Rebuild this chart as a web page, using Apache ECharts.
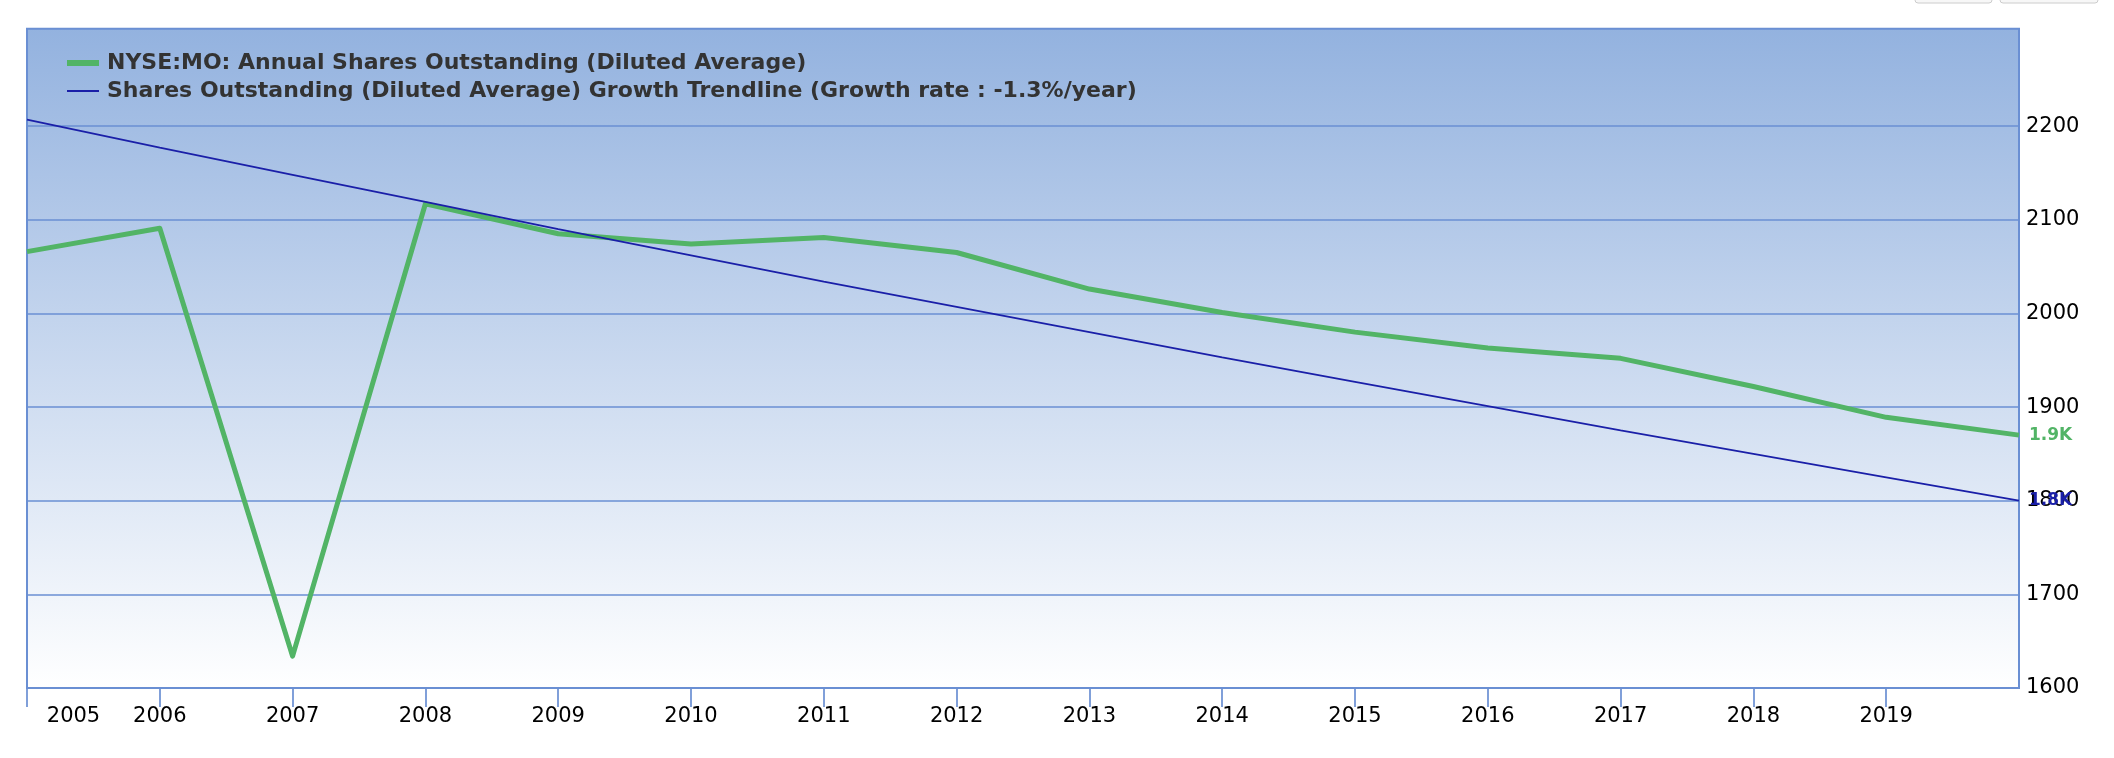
<!DOCTYPE html>
<html>
<head>
<meta charset="utf-8">
<style>
  html, body { margin: 0; padding: 0; background: #ffffff; }
  #chart { width: 2114px; height: 758px; }
</style>
<script src="https://cdn.jsdelivr.net/npm/echarts@6/dist/echarts.min.js"></script>
</head>
<body>
<div id="chart"></div>
<script>
// ---- data ----
// fiscal years; each value is plotted at the fiscal year-end (start of next year)
const fiscalYears = [2004, 2005, 2006, 2007, 2008, 2009, 2010, 2011, 2012, 2013, 2014, 2015, 2016, 2017, 2018, 2019];
const sharesDiluted = [2066, 2091, 1634, 2117, 2085, 2074, 2081, 2065, 2026, 2001, 1980, 1963, 1952, 1922, 1889, 1870];
// growth trendline values, read per fiscal year-end
const trendValues = [2207, 2177, 2148, 2119, 2090, 2062, 2034, 2007, 1980, 1953, 1927, 1901, 1875, 1850, 1825, 1800];
const xTickYears = [2005, 2006, 2007, 2008, 2009, 2010, 2011, 2012, 2013, 2014, 2015, 2016, 2017, 2018, 2019];
const yTickLabels = [1600, 1700, 1800, 1900, 2000, 2100, 2200];
const seriesNames = [
  'NYSE:MO: Annual Shares Outstanding (Diluted Average)',
  'Shares Outstanding (Diluted Average) Growth Trendline (Growth rate : -1.3%/year)'
];

// ---- styles ----
const GREEN = '#52b466';
const BLUE = '#1a1fa8';
const GRIDC = '#6a8fd3';
const FONT = 'DejaVu Sans';

const yMin = 1600, yMax = 2304, yStep = 100;
const yAllTicks = [];
for (let v = yMin; v <= yMax; v += yStep) yAllTicks.push(v);
yAllTicks.push(yMax);
const ySplitColors = yAllTicks.map(v => yTickLabels.indexOf(v) >= 0 ? GRIDC : 'rgba(0,0,0,0)');

const chart = echarts.init(document.getElementById('chart'), null, { renderer: 'canvas' });
chart.setOption({
  animation: false,
  textStyle: { fontFamily: FONT },
  graphic: [
    { type: 'rect', shape: { x: 1915, y: -20, width: 77, height: 23, r: 3 },
      style: { fill: '#f7f7f7', stroke: '#cccccc', lineWidth: 1 } },
    { type: 'rect', shape: { x: 2000, y: -20, width: 98, height: 23, r: 3 },
      style: { fill: '#f7f7f7', stroke: '#cccccc', lineWidth: 1 } }
  ],
  grid: {
    left: 27, right: 95, top: 28.7, bottom: 70,
    containLabel: false,
    outerBoundsMode: 'none',
    show: true,
    borderColor: GRIDC,
    borderWidth: 2,
    backgroundColor: new echarts.graphic.LinearGradient(0, 0, 0, 1, [
      { offset: 0, color: '#93b2df' },
      { offset: 1, color: '#ffffff' }
    ])
  },
  legend: {
    orient: 'vertical',
    left: 62,
    top: 44,
    itemWidth: 32,
    itemHeight: 14,
    itemGap: 0,
    selectedMode: false,
    textStyle: { fontFamily: FONT, fontSize: 22, fontWeight: 'bold', color: '#333333',
                 lineHeight: 28, padding: [0, 0, 0, 3] },
    data: [
      { name: seriesNames[0], icon: 'path://M0,0L32,0L32,6L0,6Z' },
      { name: seriesNames[1], icon: 'path://M0,0L32,0L32,2L0,2Z' }
    ]
  },
  xAxis: {
    type: 'value',
    min: 2005,
    max: 2020,
    interval: 1,
    splitLine: { show: false },
    axisLine: { show: true, lineStyle: { color: GRIDC, width: 2 } },
    axisTick: { show: true, length: 19, customValues: xTickYears, lineStyle: { color: GRIDC, width: 1.7 } },
    axisLabel: {
      show: true,
      margin: 18,
      fontFamily: FONT,
      fontSize: 21,
      color: '#000000',
      formatter: function (v) {
        if (xTickYears.indexOf(v) < 0) return '';
        return v === xTickYears[0] ? '{first|' + v + '}' : String(v);
      },
      rich: {
        first: { padding: [0, 0, 0, 93], fontFamily: FONT, fontSize: 21, color: '#000000' }
      }
    }
  },
  yAxis: {
    type: 'value',
    position: 'right',
    min: yMin,
    max: yMax,
    interval: yStep,
    axisLine: { show: false },
    axisTick: { show: false },
    splitLine: { show: true, lineStyle: { color: ySplitColors, width: 1.5 } },
    axisLabel: {
      margin: 7,
      fontFamily: FONT,
      fontSize: 21,
      color: '#000000',
      formatter: function (v) { return yTickLabels.indexOf(v) >= 0 ? String(v) : ''; }
    }
  },
  series: [
    {
      name: seriesNames[0],
      type: 'line',
      symbol: 'none',
      color: GREEN,
      lineStyle: { color: GREEN, width: 5, join: 'round' },
      data: fiscalYears.map((y, i) => [y + 1, sharesDiluted[i]]),
      endLabel: {
        show: true, distance: 10, color: GREEN, fontFamily: FONT, fontWeight: 'bold', fontSize: 17,
        formatter: p => (p.value[1] / 1000).toFixed(1) + 'K'
      }
    },
    {
      name: seriesNames[1],
      type: 'line',
      symbol: 'none',
      color: BLUE,
      lineStyle: { color: BLUE, width: 1.8 },
      data: fiscalYears.map((y, i) => [y + 1, trendValues[i]]),
      endLabel: {
        show: true, distance: 10, color: BLUE, fontFamily: FONT, fontWeight: 'bold', fontSize: 17,
        formatter: p => (p.value[1] / 1000).toFixed(1) + 'K'
      }
    }
  ]
});
</script>
</body>
</html>
